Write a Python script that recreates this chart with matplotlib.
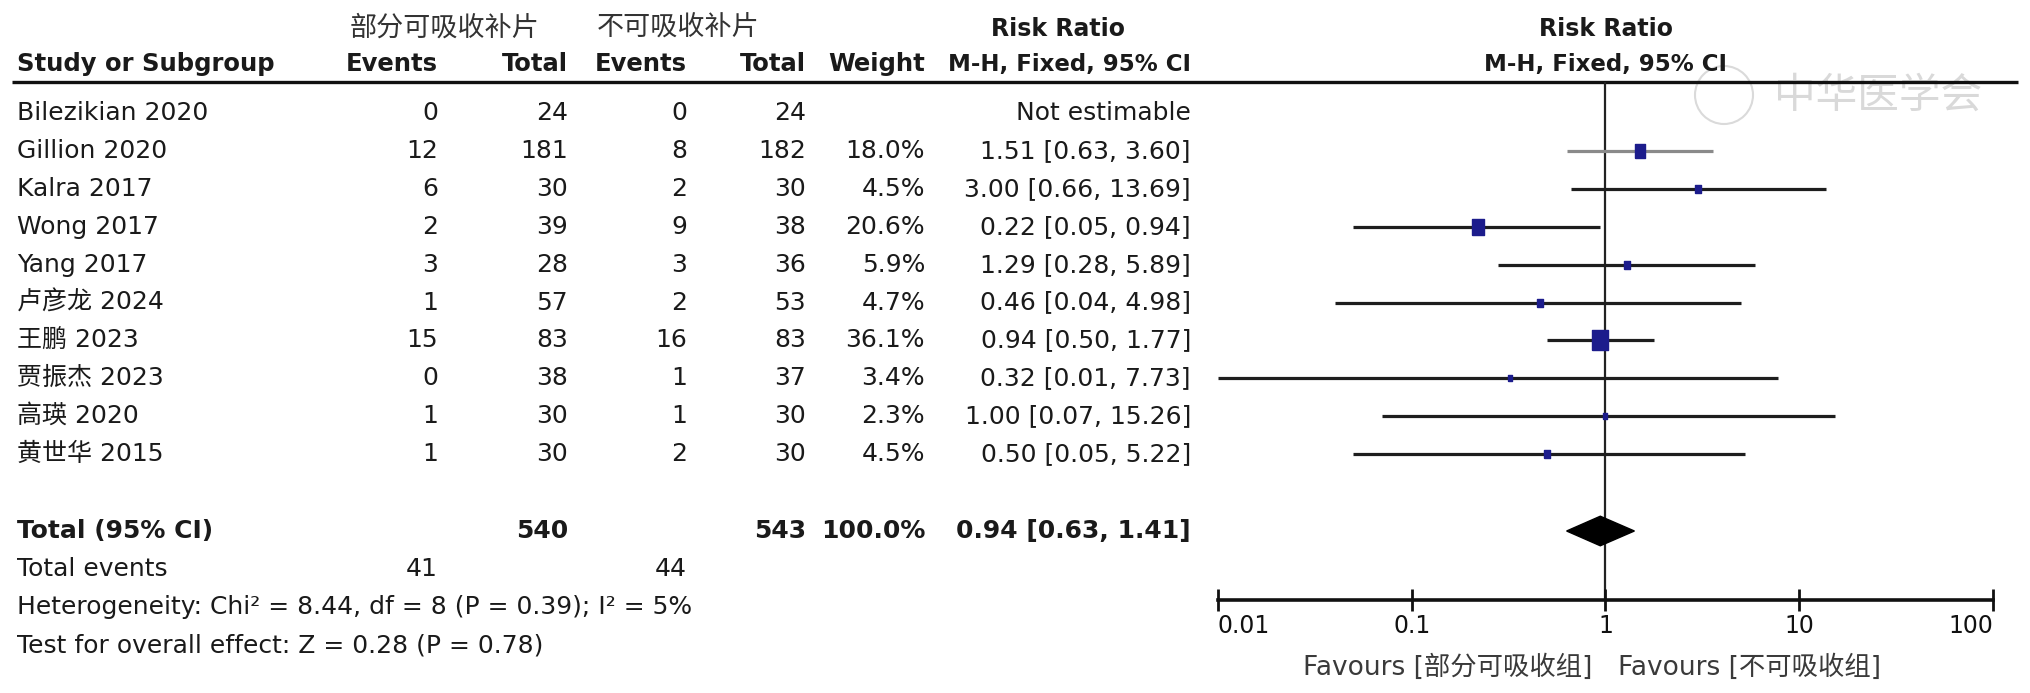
import matplotlib
matplotlib.use("Agg")
import matplotlib.pyplot as plt
from matplotlib.patches import Polygon, Ellipse
from matplotlib.path import Path
from matplotlib.ticker import NullLocator

plt.rcParams['font.family'] = ['DejaVu Sans', 'Noto Sans CJK SC']

# ---- data ----
studies = ['Bilezikian 2020', 'Gillion 2020', 'Kalra 2017', 'Wong 2017', 'Yang 2017',
           '卢彦龙 2024', '王鹏 2023', '贾振杰 2023', '高瑛 2020', '黄世华 2015']
ev_part = [0, 12, 6, 2, 3, 1, 15, 0, 1, 1]
tot_part = [24, 181, 30, 39, 28, 57, 83, 38, 30, 30]
ev_non = [0, 8, 2, 9, 3, 2, 16, 1, 1, 2]
tot_non = [24, 182, 30, 38, 36, 53, 83, 37, 30, 30]
weight = [None, 18.0, 4.5, 20.6, 5.9, 4.7, 36.1, 3.4, 2.3, 4.5]
rr = [None, 1.51, 3.00, 0.22, 1.29, 0.46, 0.94, 0.32, 1.00, 0.50]
rr_lo = [None, 0.63, 0.66, 0.05, 0.28, 0.04, 0.50, 0.01, 0.07, 0.05]
rr_hi = [None, 3.60, 13.69, 0.94, 5.89, 4.98, 1.77, 7.73, 15.26, 5.22]

total_part, total_non = 540, 543
events_part, events_non = 41, 44
pooled = (0.94, 0.63, 1.41)
heterogeneity = 'Heterogeneity: Chi² = 8.44, df = 8 (P = 0.39); I² = 5%'
overall = 'Test for overall effect: Z = 0.28 (P = 0.78)'

ticks = [0.01, 0.1, 1, 10, 100]
tick_labels = ['0.01', '0.1', '1', '10', '100']

# ---- layout (pixels) ----
W, H = 2031, 693
ROW0 = 113      # first study row
ROWH = 37.9     # row height
def r(px):
    return (px - ROW0) / ROWH

TXT = '#1a1a1a'
NAVY = '#1c1c8c'
FS = 18
FSB = 17

fig = plt.figure(figsize=(W / 100, H / 100), dpi=100)
tab = fig.add_axes([0, 0, 1, 1])
tab.set_xlim(0, W)
tab.set_ylim(r(H), r(0))
tab.axis('off')

# watermark
tab.add_patch(Ellipse((1724, r(95)), 58, 58 / ROWH, fill=False, ec='#dadada', lw=1.5, zorder=0))
tab.text(1878, r(96), '中华医学会', fontsize=30, color='#d9d9d9', ha='center', va='center', zorder=0)

x_name, x_ev1, x_tot1, x_ev2, x_tot2, x_w, x_ci = 17, 438, 568, 687, 806, 925, 1191

# headers
hy1, hy2 = r(29), r(64)
tab.text(350, hy1, '部分可吸收补片', fontsize=19.5, color='#333333', va='center', ha='left')
tab.text(597, hy1, '不可吸收补片', fontsize=19.5, color='#333333', va='center', ha='left')
tab.text(1058, hy1, 'Risk Ratio', fontsize=FSB, weight='bold', color=TXT, va='center', ha='center')
tab.text(1606, hy1, 'Risk Ratio', fontsize=FSB, weight='bold', color=TXT, va='center', ha='center')
for x, s, ha in [(x_name, 'Study or Subgroup', 'left'), (x_ev1, 'Events', 'right'),
                 (x_tot1, 'Total', 'right'), (x_ev2, 'Events', 'right'),
                 (x_tot2, 'Total', 'right'), (x_w, 'Weight', 'right')]:
    tab.text(x, hy2, s, fontsize=FSB + 0.5, weight='bold', color=TXT, va='center', ha=ha)
tab.text(x_ci, hy2, 'M-H, Fixed, 95% CI', fontsize=16.5, weight='bold', color=TXT, va='center', ha='right')
tab.text(1606, hy2, 'M-H, Fixed, 95% CI', fontsize=16.5, weight='bold', color=TXT, va='center', ha='center')
tab.plot([12, 2018], [r(82), r(82)], color='#111111', lw=2.4, solid_capstyle='butt')

# study rows
for i, name in enumerate(studies):
    kw = dict(fontsize=FS, color=TXT, va='center')
    tab.text(x_name, i, name, ha='left', **kw)
    tab.text(x_ev1, i, str(ev_part[i]), ha='right', **kw)
    tab.text(x_tot1, i, str(tot_part[i]), ha='right', **kw)
    tab.text(x_ev2, i, str(ev_non[i]), ha='right', **kw)
    tab.text(x_tot2, i, str(tot_non[i]), ha='right', **kw)
    if rr[i] is None:
        tab.text(x_ci, i, 'Not estimable', ha='right', **kw)
    else:
        tab.text(x_w, i, f'{weight[i]:.1f}%', ha='right', **kw)
        tab.text(x_ci, i, f'{rr[i]:.2f} [{rr_lo[i]:.2f}, {rr_hi[i]:.2f}]', ha='right', **kw)

# totals and footer
ty = r(531)
bkw = dict(fontsize=FS, color=TXT, va='center', weight='bold')
tab.text(x_name, ty, 'Total (95% CI)', ha='left', **bkw)
tab.text(x_tot1, ty, str(total_part), ha='right', **bkw)
tab.text(x_tot2, ty, str(total_non), ha='right', **bkw)
tab.text(x_w, ty, '100.0%', ha='right', **bkw)
tab.text(x_ci, ty, f'{pooled[0]:.2f} [{pooled[1]:.2f}, {pooled[2]:.2f}]', ha='right', **bkw)

kw = dict(fontsize=FS, color=TXT, va='center')
tab.text(x_name, r(569), 'Total events', ha='left', **kw)
tab.text(x_ev1, r(569), str(events_part), ha='right', **kw)
tab.text(x_ev2, r(569), str(events_non), ha='right', **kw)
tab.text(x_name, r(607), heterogeneity, ha='left', **kw)
tab.text(x_name, r(645), overall, ha='left', **kw)

tab.text(1592, r(668), 'Favours [部分可吸收组]', ha='right', va='center', fontsize=19, color='#3a3a3a')
tab.text(1618, r(668), 'Favours [不可吸收组]', ha='left', va='center', fontsize=19, color='#3a3a3a')

# ---- forest panel ----
ax_top, ax_bot = 82, 600
fa = fig.add_axes([1218 / W, 1 - ax_bot / H, 775 / W, (ax_bot - ax_top) / H])
fa.set_xscale('log')
fa.set_xlim(0.01, 100)
fa.set_ylim(r(ax_bot), r(ax_top))
fa.patch.set_alpha(0)
for s in ['top', 'right', 'left']:
    fa.spines[s].set_visible(False)
fa.spines['bottom'].set_linewidth(2.6)
fa.spines['bottom'].set_color('#111111')
fa.set_yticks([])
fa.set_xticks(ticks)
fa.set_xticklabels(tick_labels)
fa.xaxis.set_minor_locator(NullLocator())
fa.tick_params(axis='x', direction='inout', length=16, width=2, labelsize=17, pad=2,
               colors='#111111')
labs = fa.get_xticklabels()
labs[0].set_ha('left')
labs[-1].set_ha('right')

fa.axvline(1, color='#222222', lw=1.6, zorder=1)

box = Path([(-0.38, -0.5), (0.38, -0.5), (0.38, 0.5), (-0.38, 0.5), (-0.38, -0.5)])
for i in range(len(studies)):
    if rr[i] is None:
        continue
    col = '#8a8a8a' if i == 1 else '#1e1e1e'
    fa.plot([rr_lo[i], rr_hi[i]], [i, i], color=col, lw=2.3, solid_capstyle='butt', zorder=2)
    h_px = max(6.0, 20.0 * (weight[i] / 36.1) ** 0.5)
    fa.plot([rr[i]], [i], marker=box, ms=h_px * 0.72, color=NAVY, mec=NAVY, zorder=3)

dy = 0.39
fa.add_patch(Polygon([(pooled[1], ty), (pooled[0], ty - dy), (pooled[2], ty), (pooled[0], ty + dy)],
                     closed=True, color='black', zorder=3))

fig.savefig('out.png', dpi=100)
